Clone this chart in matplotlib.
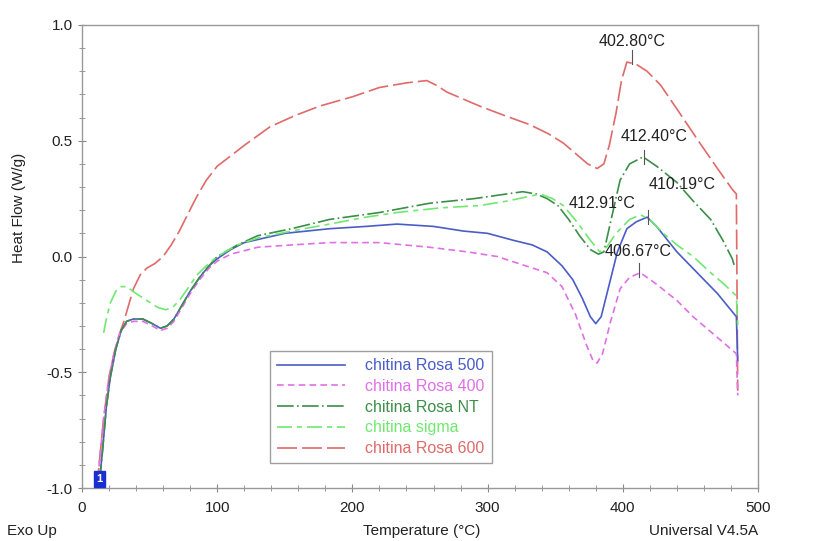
import matplotlib
matplotlib.use("Agg")
import matplotlib.pyplot as plt
from matplotlib.ticker import MultipleLocator

plt.rcParams["font.family"] = ["Liberation Sans", "DejaVu Sans"]

# DSC curves (temperature in degC, heat flow in W/g)
t_500 = [13, 15, 18, 21, 25, 29, 33, 38, 45, 52, 58, 63, 68, 74, 80, 87, 94, 100, 110, 120,
         135, 150, 183, 210, 233, 260, 282, 300, 319, 333, 344, 355, 363, 370, 376, 380, 384,
         390, 396, 403, 410, 418, 425, 440, 455, 470, 484, 485]
hf_500 = [-0.97, -0.85, -0.65, -0.52, -0.4, -0.32, -0.28, -0.27, -0.27, -0.29, -0.31, -0.30,
          -0.27, -0.21, -0.15, -0.09, -0.04, -0.01, 0.03, 0.06, 0.08, 0.10, 0.12, 0.13, 0.14,
          0.13, 0.11, 0.10, 0.07, 0.05, 0.02, -0.04, -0.10, -0.18, -0.26, -0.29, -0.26, -0.12,
          0.02, 0.12, 0.15, 0.17, 0.13, 0.02, -0.07, -0.16, -0.26, -0.45]

t_400 = [11, 13, 16, 20, 24, 28, 33, 38, 45, 52, 58, 63, 68, 74, 80, 87, 94, 100, 110, 130,
         155, 183, 220, 257, 285, 307, 328, 344, 355, 365, 373, 378, 381, 385, 391, 398, 405,
         413, 425, 440, 452, 468, 484, 485]
hf_400 = [-1.0, -0.88, -0.7, -0.52, -0.41, -0.33, -0.29, -0.28, -0.28, -0.3, -0.32, -0.31,
          -0.28, -0.22, -0.16, -0.10, -0.05, -0.02, 0.01, 0.04, 0.05, 0.06, 0.06, 0.04, 0.02,
          0.0, -0.04, -0.07, -0.13, -0.25, -0.38, -0.45, -0.46, -0.42, -0.28, -0.14, -0.09,
          -0.07, -0.12, -0.19, -0.26, -0.34, -0.42, -0.6]

t_nt = [13, 15, 18, 21, 25, 29, 33, 38, 45, 52, 58, 63, 68, 74, 80, 87, 94, 100, 115, 130,
        155, 183, 220, 257, 290, 326, 336, 344, 352, 360, 368, 376, 382, 386, 391, 398, 405,
        415, 425, 440, 452, 465, 474, 481, 483]
hf_nt = [-0.97, -0.85, -0.65, -0.52, -0.4, -0.32, -0.28, -0.27, -0.27, -0.29, -0.31, -0.30,
         -0.27, -0.21, -0.15, -0.09, -0.04, 0.0, 0.05, 0.09, 0.12, 0.16, 0.19, 0.23, 0.25,
         0.28, 0.27, 0.25, 0.22, 0.16, 0.09, 0.03, 0.01, 0.02, 0.15, 0.33, 0.40, 0.43, 0.39,
         0.32, 0.24, 0.16, 0.07, -0.01, -0.05]

t_sigma = [16, 18, 21, 25, 29, 33, 40, 48, 56, 62, 67, 72, 78, 85, 92, 100, 115, 130, 155,
           183, 210, 233, 265, 294, 315, 331, 339, 348, 356, 366, 376, 383, 388, 395, 405, 413,
           420, 430, 440, 452, 465, 475, 484, 485]
hf_sigma = [-0.33, -0.27, -0.2, -0.15, -0.13, -0.13, -0.16, -0.19, -0.22, -0.23, -0.22, -0.19,
            -0.14, -0.08, -0.04, 0.0, 0.05, 0.08, 0.11, 0.14, 0.17, 0.19, 0.21, 0.22, 0.24,
            0.26, 0.27, 0.25, 0.22, 0.15, 0.07, 0.02, 0.04, 0.10, 0.16, 0.18, 0.16, 0.10, 0.05,
            0.0, -0.07, -0.12, -0.17, -0.3]

t_600 = [11, 13, 16, 20, 24, 28, 31, 34, 38, 43, 48, 54, 60, 66, 72, 78, 85, 92, 100, 109,
         120, 139, 158, 176, 200, 220, 240, 255, 262, 270, 282, 294, 312, 331, 345, 356, 366,
         374, 381, 386, 390, 395, 399, 403, 410, 418, 428, 442, 457, 470, 481, 484, 485]
hf_600 = [-1.0, -0.88, -0.7, -0.52, -0.41, -0.33, -0.28, -0.22, -0.14, -0.08, -0.05, -0.03,
          0.0, 0.05, 0.11, 0.18, 0.26, 0.33, 0.39, 0.43, 0.48, 0.56, 0.61, 0.65, 0.69, 0.73,
          0.75, 0.76, 0.74, 0.71, 0.68, 0.65, 0.61, 0.57, 0.53, 0.49, 0.44, 0.40, 0.38, 0.40,
          0.48, 0.62, 0.76, 0.84, 0.83, 0.80, 0.74, 0.62, 0.49, 0.38, 0.29, 0.27, -0.58]

peak_labels = ["402.80°C", "412.40°C", "410.19°C", "412.91°C", "406.67°C"]
peak_x = [407, 423, 444, 385, 411]
peak_y = [0.93, 0.52, 0.31, 0.23, 0.02]
tick_x = [407, 416, 419, 412]
tick_y = [0.86, 0.43, 0.17, -0.06]

series = [
    ("chitina Rosa 500", t_500, hf_500, "#4a5cc8", "-"),
    ("chitina Rosa 400", t_400, hf_400, "#e070e6", (0, (4, 2.5))),
    ("chitina Rosa NT", t_nt, hf_nt, "#3b8f48", (0, (10, 2, 1, 2))),
    ("chitina sigma", t_sigma, hf_sigma, "#70e870", (0, (9, 3, 3, 3))),
    ("chitina Rosa 600", t_600, hf_600, "#e06a6a", (0, (12, 3))),
]

fig = plt.figure(figsize=(8.13, 5.41), dpi=100)
ax = fig.add_axes([82 / 813, 53 / 541, 676 / 813, 463 / 541])

# draw the 600 sample first so the low-temperature overlap shows the other curves
order = [4, 0, 1, 2, 3]
lines = {}
for i in order:
    name, t, hf, color, ls = series[i]
    lines[i], = ax.plot(t, hf, color=color, linestyle=ls, linewidth=1.2, label=name)

for lbl, px, py in zip(peak_labels, peak_x, peak_y):
    ax.text(px, py, lbl, fontsize=11.5, ha="center", va="center", color="#222222")

# small peak markers
for px, py in zip(tick_x, tick_y):
    ax.plot([px, px], [py - 0.03, py + 0.03], color="#555555", linewidth=0.8)

ax.text(13, -0.96, "1", fontsize=8, color="white", ha="center", va="center", fontweight="bold",
        bbox=dict(boxstyle="square,pad=0.25", facecolor="#1a2fd0", edgecolor="#1a2fd0"))

ax.set_xlim(0, 500)
ax.set_ylim(-1.0, 1.0)
ax.xaxis.set_major_locator(MultipleLocator(100))
ax.xaxis.set_minor_locator(MultipleLocator(20))
ax.yaxis.set_major_locator(MultipleLocator(0.5))
ax.yaxis.set_minor_locator(MultipleLocator(0.1))
ax.yaxis.set_major_formatter(plt.FormatStrFormatter("%.1f"))
ax.tick_params(which="both", direction="inout", colors="#888888", labelcolor="#222222",
               labelsize=11)
ax.tick_params(which="major", length=6)
ax.tick_params(which="minor", length=4)
ax.tick_params(axis="x", pad=6)
for sp in ax.spines.values():
    sp.set_color("#999999")
    sp.set_linewidth(1.0)

fig.text(19 / 813, 1 - 208 / 541, "Heat Flow (W/g)", fontsize=11, rotation=90,
         ha="center", va="center", color="#222222")
fig.text(32 / 813, 1 - 531 / 541, "Exo Up", fontsize=11, ha="center", va="center", color="#222222")
fig.text(422 / 813, 1 - 531 / 541, "Temperature (°C)", fontsize=11, ha="center", va="center",
         color="#222222")
fig.text(758 / 813, 1 - 531 / 541, "Universal V4.5A", fontsize=11, ha="right", va="center",
         color="#222222")

leg = ax.legend([lines[i] for i in range(5)], [s[0] for s in series],
                loc="upper left", bbox_to_anchor=(270 / 813, 1 - 351 / 541),
                bbox_transform=fig.transFigure, fontsize=11.5, frameon=True, fancybox=False,
                edgecolor="#888888", handlelength=4.25, handletextpad=1.25, borderpad=0.45,
                labelspacing=0.36, borderaxespad=0)
for txt, s in zip(leg.get_texts(), series):
    txt.set_color(s[3])

fig.savefig("out.png", dpi=100)
